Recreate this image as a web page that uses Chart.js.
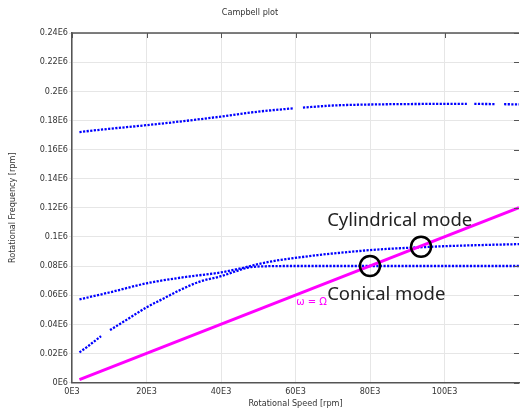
<!DOCTYPE html>
<html>
<head>
<meta charset="utf-8">
<script src="https://cdn.jsdelivr.net/npm/chart.js@4/dist/chart.umd.min.js"></script>
<style>html,body{margin:0;padding:0;background:#fff;}canvas{display:block;}</style>
</head>
<body>
<canvas id="c" width="520" height="413"></canvas>
<script>
// Values in thousands of rpm (E3)
const conicalX = [2, 4, 6, 7.8, 9, 10.2, 15, 20, 25, 29, 34.3, 40, 44, 47.5, 52, 60, 70, 80, 90, 100, 110, 120];
const conicalY = [20.7, 24.3, 28.3, 31.8, null, 36, 43.6, 51.6, 58.2, 63.5, 69.3, 73, 76.4, 79.0, 79.8, 80, 80, 80, 80, 80, 80, 80];

const cylindricalX = [2, 10, 20, 30, 40, 46, 50, 55, 61, 66, 75, 82, 93, 100, 110, 120];
const cylindricalY = [57.1, 61.8, 68.1, 72.3, 75.6, 78.8, 81.3, 83.8, 85.9, 87.5, 89.8, 91.3, 92.8, 93.6, 94.4, 95];

const upperX = [2, 10, 20, 30, 40, 50, 59.5, 60.7, 62, 70, 80, 90, 100, 106, 107, 108, 113.7, 115, 116, 120];
const upperY = [172, 174.2, 176.7, 179.5, 182.6, 186, 188.3, null, 188.8, 190.2, 190.9, 191.2, 191.3, 191.3, null, 191.3, 191.2, null, 191.1, 191];

const syncX = [2, 120];
const syncY = [2, 120];

const circleX = [80, 93.7];
const circleY = [80, 93.2];

const xTickValues = [0, 20, 40, 60, 80, 100];
const yTickStep = 20;

function pts(xs, ys) {
  return xs.map((x, i) => ({ x: x * 1000, y: ys[i] === null ? null : ys[i] * 1000 }));
}

const blue = '#0000ff';
const dotted = { borderColor: blue, borderWidth: 2.3, borderDash: [2.2, 1.4], pointRadius: 0, fill: false,
  cubicInterpolationMode: 'monotone', spanGaps: false, order: 2 };

const tickFont = { family: "'DejaVu Sans Condensed', 'DejaVu Sans', sans-serif", size: 9 };

const overlay = {
  id: 'overlay',
  afterDatasetsDraw(chart) {
    const { ctx, chartArea: a, scales: { x, y } } = chart;
    ctx.save();
    // top border and inward ticks
    ctx.strokeStyle = '#555';
    ctx.lineWidth = 1.5;
    ctx.beginPath();
    ctx.moveTo(a.left, a.top);
    ctx.lineTo(a.right, a.top);
    ctx.stroke();
    ctx.lineWidth = 1;
    ctx.beginPath();
    x.ticks.forEach(t => {
      const px = Math.round(x.getPixelForValue(t.value)) + 0.5;
      ctx.moveTo(px, a.top);
      ctx.lineTo(px, a.top + 5);
    });
    y.ticks.forEach(t => {
      const py = Math.round(y.getPixelForValue(t.value)) + 0.5;
      ctx.moveTo(a.right, py);
      ctx.lineTo(a.right - 5, py);
    });
    ctx.stroke();

    // annotations
    ctx.fillStyle = '#222';
    ctx.font = "18.5px 'Noto Sans', sans-serif";
    ctx.textAlign = 'left';
    ctx.textBaseline = 'alphabetic';
    ctx.fillText('Cylindrical mode', x.getPixelForValue(68500), y.getPixelForValue(107400));
    ctx.fillText('Conical mode', x.getPixelForValue(68500), y.getPixelForValue(56600));
    ctx.fillStyle = '#ff00ff';
    ctx.font = "10px 'DejaVu Sans', sans-serif";
    ctx.fillText('\u03C9 = \u03A9', x.getPixelForValue(60200), y.getPixelForValue(53200));

    // titles
    ctx.fillStyle = '#333';
    ctx.font = "9px 'DejaVu Sans Condensed', 'DejaVu Sans', sans-serif";
    ctx.textAlign = 'center';
    ctx.textBaseline = 'middle';
    ctx.fillText('Campbell plot', 250, 13);
    ctx.fillText('Rotational Speed [rpm]', (a.left + a.right) / 2, 404);
    ctx.translate(13, (a.top + a.bottom) / 2);
    ctx.rotate(-Math.PI / 2);
    ctx.fillText('Rotational Frequency [rpm]', 0, 0);
    ctx.restore();
  }
};

new Chart(document.getElementById('c'), {
  type: 'line',
  data: {
    datasets: [
      { label: 'circles', data: pts(circleX, circleY), showLine: false, pointRadius: 10, pointHoverRadius: 10,
        pointBorderWidth: 2.5, pointBorderColor: '#000', pointBackgroundColor: 'rgba(0,0,0,0)', order: 0 },
      { label: 'sync', data: pts(syncX, syncY), borderColor: '#ff00ff', borderWidth: 3, pointRadius: 0, fill: false, order: 1 },
      Object.assign({ label: 'conical', data: pts(conicalX, conicalY) }, dotted),
      Object.assign({ label: 'cylindrical', data: pts(cylindricalX, cylindricalY) }, dotted),
      Object.assign({ label: 'upper', data: pts(upperX, upperY) }, dotted)
    ]
  },
  options: {
    responsive: false,
    animation: false,
    devicePixelRatio: 1,
    layout: { autoPadding: false, padding: { top: 33, right: 1, left: 0, bottom: 0 } },
    plugins: { legend: { display: false }, title: { display: false }, tooltip: { enabled: false } },
    scales: {
      x: {
        type: 'linear', min: 0, max: 120000,
        afterBuildTicks: s => { s.ticks = xTickValues.map(v => ({ value: v * 1000 })); },
        ticks: { font: tickFont, color: '#333', padding: 4, maxRotation: 0,
          callback: v => (v / 1000) + 'E3' },
        grid: { color: '#e6e6e6', lineWidth: 1, tickLength: 0 },
        border: { color: '#555', width: 1.5 },
        afterFit: s => { s.height = 30.5; s.paddingRight = 0; }
      },
      y: {
        type: 'linear', min: 0, max: 240000,
        ticks: { stepSize: yTickStep * 1000, font: tickFont, color: '#333', padding: 1,
          callback: v => Number((v / 1e6).toFixed(2)) + 'E6' },
        grid: { color: '#e6e6e6', lineWidth: 1, tickLength: 3 },
        border: { color: '#555', width: 1.5 },
        afterFit: s => { s.width = 72; }
      }
    }
  },
  plugins: [overlay]
});
</script>
</body>
</html>
